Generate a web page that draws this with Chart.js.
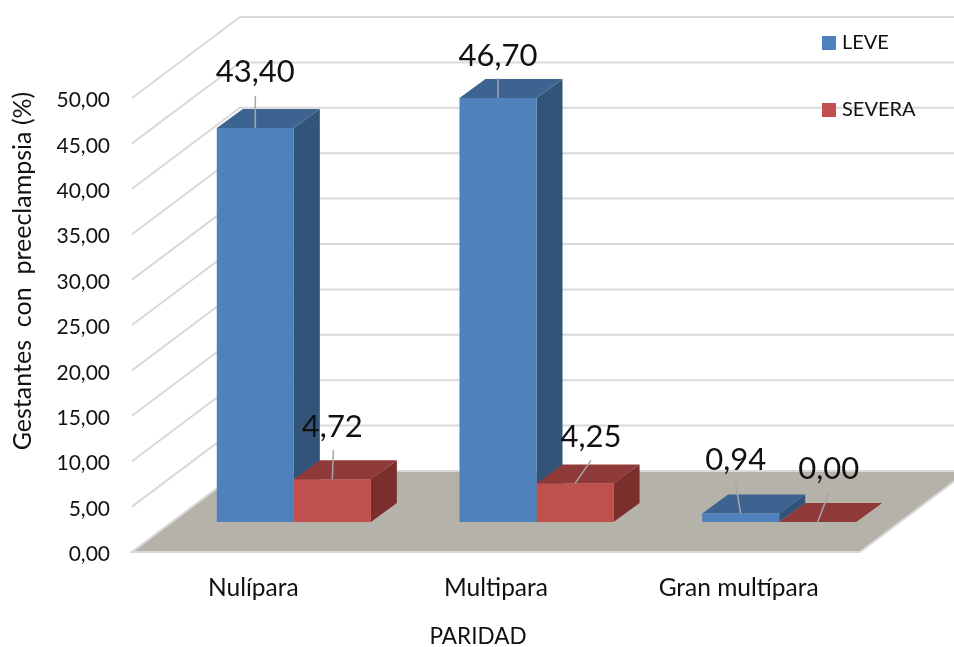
<!DOCTYPE html>
<html>
<head>
<meta charset="utf-8">
<style>
  html, body { margin: 0; padding: 0; background: #fff; }
  canvas { display: block; }
</style>
<script src="https://cdn.jsdelivr.net/npm/chart.js@4"></script>
</head>
<body>
<canvas id="Chart" width="954" height="647"></canvas>
<script>
var categories = ["Nulípara", "Multipara", "Gran multípara"];
var leve = [43.40, 46.70, 0.94];
var severa = [4.72, 4.25, 0.00];
var seriesNames = ["LEVE", "SEVERA"];

var FONT = "Lato, 'Open Sans', sans-serif";
var TEXT = "#111";
var GRID = "#d9d9d9";
var FLOOR = "#b5b2aa";

// 3D look: wall depth, where the bars sit on the floor, and the bar's own depth
var WALL_DX = 108, WALL_DY = -81;
var BAR_DX = 40.5, BAR_DY = -30;
var DEPTH_DX = 26, DEPTH_DY = -19;

// per dataset / per bar: leader line end and label centre, relative to the bar top
var leaderOffsets = [
  [[0, -32], [0, -20], [-5, -30]],
  [[1, -29], [16, -23], [11.5, -30]]
];
var labelOffsets = [
  [[0, -56], [0, -42], [-5, -53]],
  [[0, -52], [16, -46], [11, -53]]
];
var faceColors = [
  { top: "#3d6491", side: "#335479" },
  { top: "#8f3a38", side: "#7a2f2d" }
];

function fmt(v) {
  return v.toFixed(2).replace(".", ",");
}

function poly(ctx, pts, color) {
  ctx.fillStyle = color;
  ctx.beginPath();
  ctx.moveTo(pts[0][0], pts[0][1]);
  for (var i = 1; i < pts.length; i++) ctx.lineTo(pts[i][0], pts[i][1]);
  ctx.closePath();
  ctx.fill();
}

var walls = {
  id: "walls",
  beforeDatasetsDraw: function(chart) {
    var ctx = chart.ctx, a = chart.chartArea, y = chart.scales.y;
    ctx.save();
    ctx.strokeStyle = GRID;
    ctx.lineWidth = 2;
    y.ticks.forEach(function(t) {
      var py = y.getPixelForValue(t.value);
      ctx.beginPath();
      ctx.moveTo(a.left, py);
      ctx.lineTo(a.left + WALL_DX, py + WALL_DY);
      ctx.lineTo(chart.width, py + WALL_DY);
      ctx.stroke();
    });
    // floor
    var p0 = y.getPixelForValue(0);
    var pts = [
      [a.left, p0], [a.right, p0],
      [a.right + WALL_DX, p0 + WALL_DY], [a.left + WALL_DX, p0 + WALL_DY]
    ];
    poly(ctx, pts, FLOOR);
    ctx.beginPath();
    ctx.moveTo(pts[0][0], pts[0][1]);
    for (var i = 1; i < 4; i++) ctx.lineTo(pts[i][0], pts[i][1]);
    ctx.closePath();
    ctx.stroke();
    ctx.restore();
  }
};

var bars3d = {
  id: "bars3d",
  // side and top faces go first, blue before red, the library then paints the fronts
  beforeDatasetsDraw: function(chart) {
    var ctx = chart.ctx;
    ctx.save();
    ctx.translate(BAR_DX, BAR_DY);
    chart.data.datasets.forEach(function(ds, d) {
      var c = faceColors[d];
      chart.getDatasetMeta(d).data.forEach(function(bar) {
        var l = bar.x - bar.width / 2, r = bar.x + bar.width / 2;
        poly(ctx, [[r, bar.y], [r + DEPTH_DX, bar.y + DEPTH_DY], [r + DEPTH_DX, bar.base + DEPTH_DY], [r, bar.base]], c.side);
        poly(ctx, [[l, bar.y], [r, bar.y], [r + DEPTH_DX, bar.y + DEPTH_DY], [l + DEPTH_DX, bar.y + DEPTH_DY]], c.top);
      });
    });
    ctx.restore();
  },
  beforeDatasetDraw: function(chart) {
    chart.ctx.save();
    chart.ctx.translate(BAR_DX, BAR_DY);
  },
  afterDatasetDraw: function(chart) {
    chart.ctx.restore();
  },
  afterDatasetsDraw: function(chart) {
    var ctx = chart.ctx;
    ctx.save();
    chart.data.datasets.forEach(function(ds, d) {
      chart.getDatasetMeta(d).data.forEach(function(bar, i) {
        var x = bar.x + BAR_DX, y = bar.y + BAR_DY;
        var lead = leaderOffsets[d][i], lab = labelOffsets[d][i];
        ctx.strokeStyle = "#a6a6a6";
        ctx.lineWidth = 1.5;
        ctx.beginPath();
        ctx.moveTo(x, y);
        ctx.lineTo(x + lead[0], y + lead[1]);
        ctx.stroke();
        ctx.fillStyle = TEXT;
        ctx.font = "31px " + FONT;
        ctx.textAlign = "center";
        ctx.textBaseline = "middle";
        ctx.fillText(fmt(ds.data[i]), x + lab[0], y + lab[1]);
      });
    });
    ctx.restore();
  }
};

// Lato sits a bit high compared to the original, nudge the y tick labels down
var tickNudge = {
  id: "tickNudge",
  beforeDraw: function(chart) {
    if (chart.$nudged) return;
    chart.$nudged = true;
    chart.scales.y.getLabelItems().forEach(function(it) {
      it.options.translation[1] += 2.5;
    });
  }
};

// legend and axis titles sit off-centre in the original, so they are placed by hand
var extras = {
  id: "extras",
  afterDraw: function(chart) {
    var ctx = chart.ctx;
    ctx.save();
    ctx.textBaseline = "middle";
    ctx.textAlign = "left";
    ctx.font = "20px " + FONT;
    chart.data.datasets.forEach(function(ds, d) {
      var ly = 43 + d * 67;
      ctx.fillStyle = ds.backgroundColor;
      ctx.fillRect(822, ly - 7, 14, 14);
      ctx.fillStyle = TEXT;
      ctx.fillText(ds.label, 842, ly);
    });
    ctx.textAlign = "center";
    ctx.font = "22.5px " + FONT;
    ctx.fillText("PARIDAD", 478, 637);
    ctx.translate(23, 271);
    ctx.rotate(-Math.PI / 2);
    ctx.font = "25px " + FONT;
    ctx.fillText("Gestantes  con  preeclampsia (%)", 0, 0);
    ctx.restore();
  }
};

var chart = new Chart(document.getElementById("Chart"), {
  type: "bar",
  data: {
    labels: categories,
    datasets: [
      { label: seriesNames[0], data: leve, backgroundColor: "#4f81bd", clip: false },
      { label: seriesNames[1], data: severa, backgroundColor: "#c0504d", clip: false }
    ]
  },
  options: {
    responsive: false,
    animation: false,
    categoryPercentage: 0.635,
    barPercentage: 1,
    layout: { padding: { top: 98, right: 94, bottom: 0, left: 0 } },
    plugins: {
      legend: { display: false },
      tooltip: { enabled: false }
    },
    scales: {
      x: {
        grid: { display: false },
        border: { display: false },
        ticks: { color: TEXT, font: { family: FONT, size: 24.5 }, padding: 13, maxRotation: 0 },
        afterFit: function(s) { s.height = 95; }
      },
      y: {
        min: 0,
        max: 50,
        grid: { display: false, drawTicks: false },
        border: { display: false },
        ticks: {
          stepSize: 5,
          color: TEXT,
          font: { family: FONT, size: 21 },
          padding: 22,
          callback: function(v) { return fmt(v); }
        },
        afterFit: function(s) { s.width = 132; }
      }
    }
  },
  plugins: [tickNudge, walls, bars3d, extras]
});
</script>
</body>
</html>
